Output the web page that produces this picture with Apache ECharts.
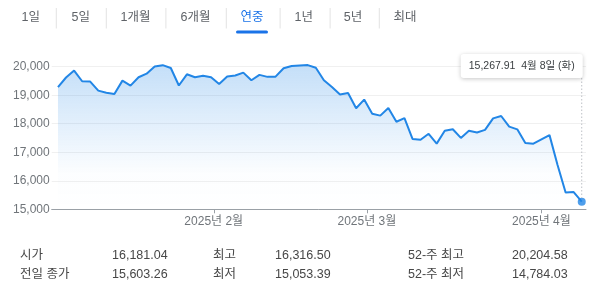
<!DOCTYPE html>
<html><head><meta charset="utf-8">
<script src="https://cdn.jsdelivr.net/npm/echarts@6/dist/echarts.min.js"></script>
<style>html,body{margin:0;padding:0;background:#fff;}#c{width:600px;height:297px;}</style>
</head><body><div id="c"></div>
<script>
// ---- data ----
const dates = [
 '2025-01-02','2025-01-03','2025-01-06','2025-01-07','2025-01-08','2025-01-10','2025-01-13','2025-01-14','2025-01-15','2025-01-16',
 '2025-01-17','2025-01-21','2025-01-22','2025-01-23','2025-01-24','2025-01-27','2025-01-28','2025-01-29','2025-01-30','2025-01-31',
 '2025-02-03','2025-02-04','2025-02-05','2025-02-06','2025-02-07','2025-02-10','2025-02-11','2025-02-12','2025-02-13','2025-02-14',
 '2025-02-18','2025-02-19','2025-02-20','2025-02-21','2025-02-24','2025-02-25','2025-02-26','2025-02-27','2025-02-28',
 '2025-03-03','2025-03-04','2025-03-05','2025-03-06','2025-03-07','2025-03-10','2025-03-11','2025-03-12','2025-03-13','2025-03-14',
 '2025-03-17','2025-03-18','2025-03-19','2025-03-20','2025-03-21','2025-03-24','2025-03-25','2025-03-26','2025-03-27','2025-03-28','2025-03-31',
 '2025-04-01','2025-04-02','2025-04-03','2025-04-04','2025-04-07','2025-04-08'
];
const closes = [
 19280.79,19621.68,19864.98,19489.68,19478.88,19161.63,19088.10,19044.39,19511.23,19338.29,
 19630.20,19756.78,20009.34,20053.68,19954.30,19341.83,19733.59,19632.32,19681.75,19627.44,
 19391.96,19654.02,19692.33,19791.99,19523.40,19714.27,19643.86,19649.95,19945.64,20026.77,
 20041.26,20056.25,19962.36,19524.01,19286.93,19026.39,19075.26,18544.42,18847.28,
 18350.19,18285.16,18552.73,18069.26,18196.22,17468.32,17436.10,17648.45,17303.01,17754.09,
 17808.66,17504.12,17750.79,17691.63,17784.05,18188.59,18271.86,17899.02,17804.03,17322.99,17299.29,
 17449.89,17601.05,16550.61,15587.79,15603.26,15267.91
];
const monthStarts = ['2025-02-01','2025-03-01','2025-04-01'];
const monthLabels = ['2025년 2월','2025년 3월','2025년 4월'];
const yTicks = [15000,16000,17000,18000,19000,20000];
const tabs = ['1일','5일','1개월','6개월','연중','1년','5년','최대'];
const selectedTab = '연중';
const statLabels1 = ['시가','전일 종가'];
const statValues1 = ['16,181.04','15,603.26'];
const statLabels2 = ['최고','최저'];
const statValues2 = ['16,316.50','15,053.39'];
const statLabels3 = ['52-주 최고','52-주 최저'];
const statValues3 = ['20,204.58','14,784.03'];
const weekdays = ['일','월','화','수','목','금','토'];

// ---- derived ----
const FONT = "'Liberation Sans', Arial, 'Noto Sans CJK KR', sans-serif";
const BLUE = '#1a73e8';
const LINE = '#2286e6';
const dayMs = s => Date.parse(s + 'T00:00:00Z');
const tickPos = monthStarts.map(m => {
  const t = dayMs(m);
  for (let i = 0; i < dates.length - 1; i++) {
    const a = dayMs(dates[i]), b = dayMs(dates[i+1]);
    if (t >= a && t < b) return i + (t - a) / (b - a);
  }
  return 0;
});
const seriesData = closes.map((v, i) => [i, v]);
const lastIdx = closes.length - 1;
const fmt2 = v => v.toLocaleString('en-US', {minimumFractionDigits: 2, maximumFractionDigits: 2});
const lastDate = new Date(dayMs(dates[lastIdx]));
const tipDate = (lastDate.getUTCMonth()+1) + '월 ' + lastDate.getUTCDate() + '일 (' + weekdays[lastDate.getUTCDay()] + ')';

const chart = echarts.init(document.getElementById('c'));
const option = {
  animation: false,
  textStyle: {fontFamily: FONT},
  grid: {left: 51.7, right: 14, top: 66.7, bottom: 87.7},
  xAxis: {
    type: 'value', min: -0.78, max: 65.53,
    axisLine: {show: true, lineStyle: {color: '#9aa0a6', width: 1}},
    axisTick: {show: true, customValues: tickPos, length: 4, lineStyle: {color: '#9aa0a6'}},
    axisLabel: {customValues: tickPos, margin: 6, color: '#70757a', fontSize: 12, fontFamily: FONT,
      formatter: v => { let k = 0, d = 1e9; tickPos.forEach((p, i) => { if (Math.abs(p - v) < d) { d = Math.abs(p - v); k = i; } }); return monthLabels[k]; }},
    splitLine: {show: false}
  },
  yAxis: {
    type: 'value', min: yTicks[0], max: yTicks[yTicks.length-1], interval: 1000,
    axisLine: {show: false}, axisTick: {show: false},
    axisLabel: {margin: 2, color: '#70757a', fontSize: 12, fontFamily: FONT, formatter: v => v.toLocaleString('en-US')},
    splitLine: {lineStyle: {color: '#f0f0f0'}}
  },
  series: [
    {type: 'line', data: seriesData, symbol: 'none', clip: false, z: 3,
     lineStyle: {color: LINE, width: 2},
     areaStyle: {color: new echarts.graphic.LinearGradient(0, 0, 0, 1, [
        {offset: 0, color: 'rgba(34,134,230,0.38)'},
        {offset: 0.75, color: 'rgba(34,134,230,0.02)'},
        {offset: 1, color: 'rgba(34,134,230,0)'}])}},
    {type: 'scatter', data: [[lastIdx, closes[lastIdx]]], symbolSize: 8, itemStyle: {color: LINE}, z: 5, clip: false}
  ]
};
chart.setOption(option);

// ---- annotations ----
const p = chart.convertToPixel({gridIndex: 0}, [lastIdx, closes[lastIdx]]);
const g = [];
// tabs
const tabCx = [30.8, 80.8, 135.4, 195.4, 252, 303.8, 353, 405];
const sepX = [55.8, 105.8, 165.4, 225.8, 279.6, 329.6, 378.8];
tabs.forEach((t, i) => {
  g.push({type: 'text', x: tabCx[i], y: 17.5, style: {text: t, fill: t === selectedTab ? BLUE : '#5f6368', font: '12.5px ' + FONT, textAlign: 'center', textVerticalAlign: 'middle'}});
});
sepX.forEach(x => g.push({type: 'rect', shape: {x: x, y: 8, width: 1, height: 20.5}, style: {fill: '#e3e3e3'}}));
const sel = tabs.indexOf(selectedTab);
g.push({type: 'rect', shape: {x: tabCx[sel] - 16, y: 30.5, width: 32, height: 3, r: 1.5}, style: {fill: BLUE}});
// tooltip
const boxR = p[0] + 1, boxW = 122, boxTop = 54, boxH = 24;
g.push({type: 'line', shape: {x1: p[0], y1: boxTop + boxH, x2: p[0], y2: p[1] - 4}, style: {stroke: '#bdc1c6', lineWidth: 1, lineDash: [1.5, 2]}, z: 10});
g.push({type: 'rect', shape: {x: boxR - boxW, y: boxTop, width: boxW, height: boxH, r: 3}, style: {fill: '#fff', shadowBlur: 4, shadowColor: 'rgba(0,0,0,0.22)', shadowOffsetY: 1}, z: 10});
g.push({type: 'text', x: boxR - boxW + 8, y: boxTop + boxH/2, style: {text: fmt2(closes[lastIdx]) + '  ' + tipDate, fill: '#3c4043', font: '10.5px ' + FONT, textVerticalAlign: 'middle'}, z: 11});
// stats
const rowsY = [256, 275];
const cols = [[20, statLabels1], [112, statValues1], [213, statLabels2], [275, statValues2], [408, statLabels3], [512, statValues3]];
cols.forEach(([x, arr]) => arr.forEach((t, r) => {
  g.push({type: 'text', x: x, y: rowsY[r], style: {text: t, fill: '#474747', font: '12.5px ' + FONT, textVerticalAlign: 'middle'}});
}));
chart.setOption({graphic: g});
</script>
</body></html>
